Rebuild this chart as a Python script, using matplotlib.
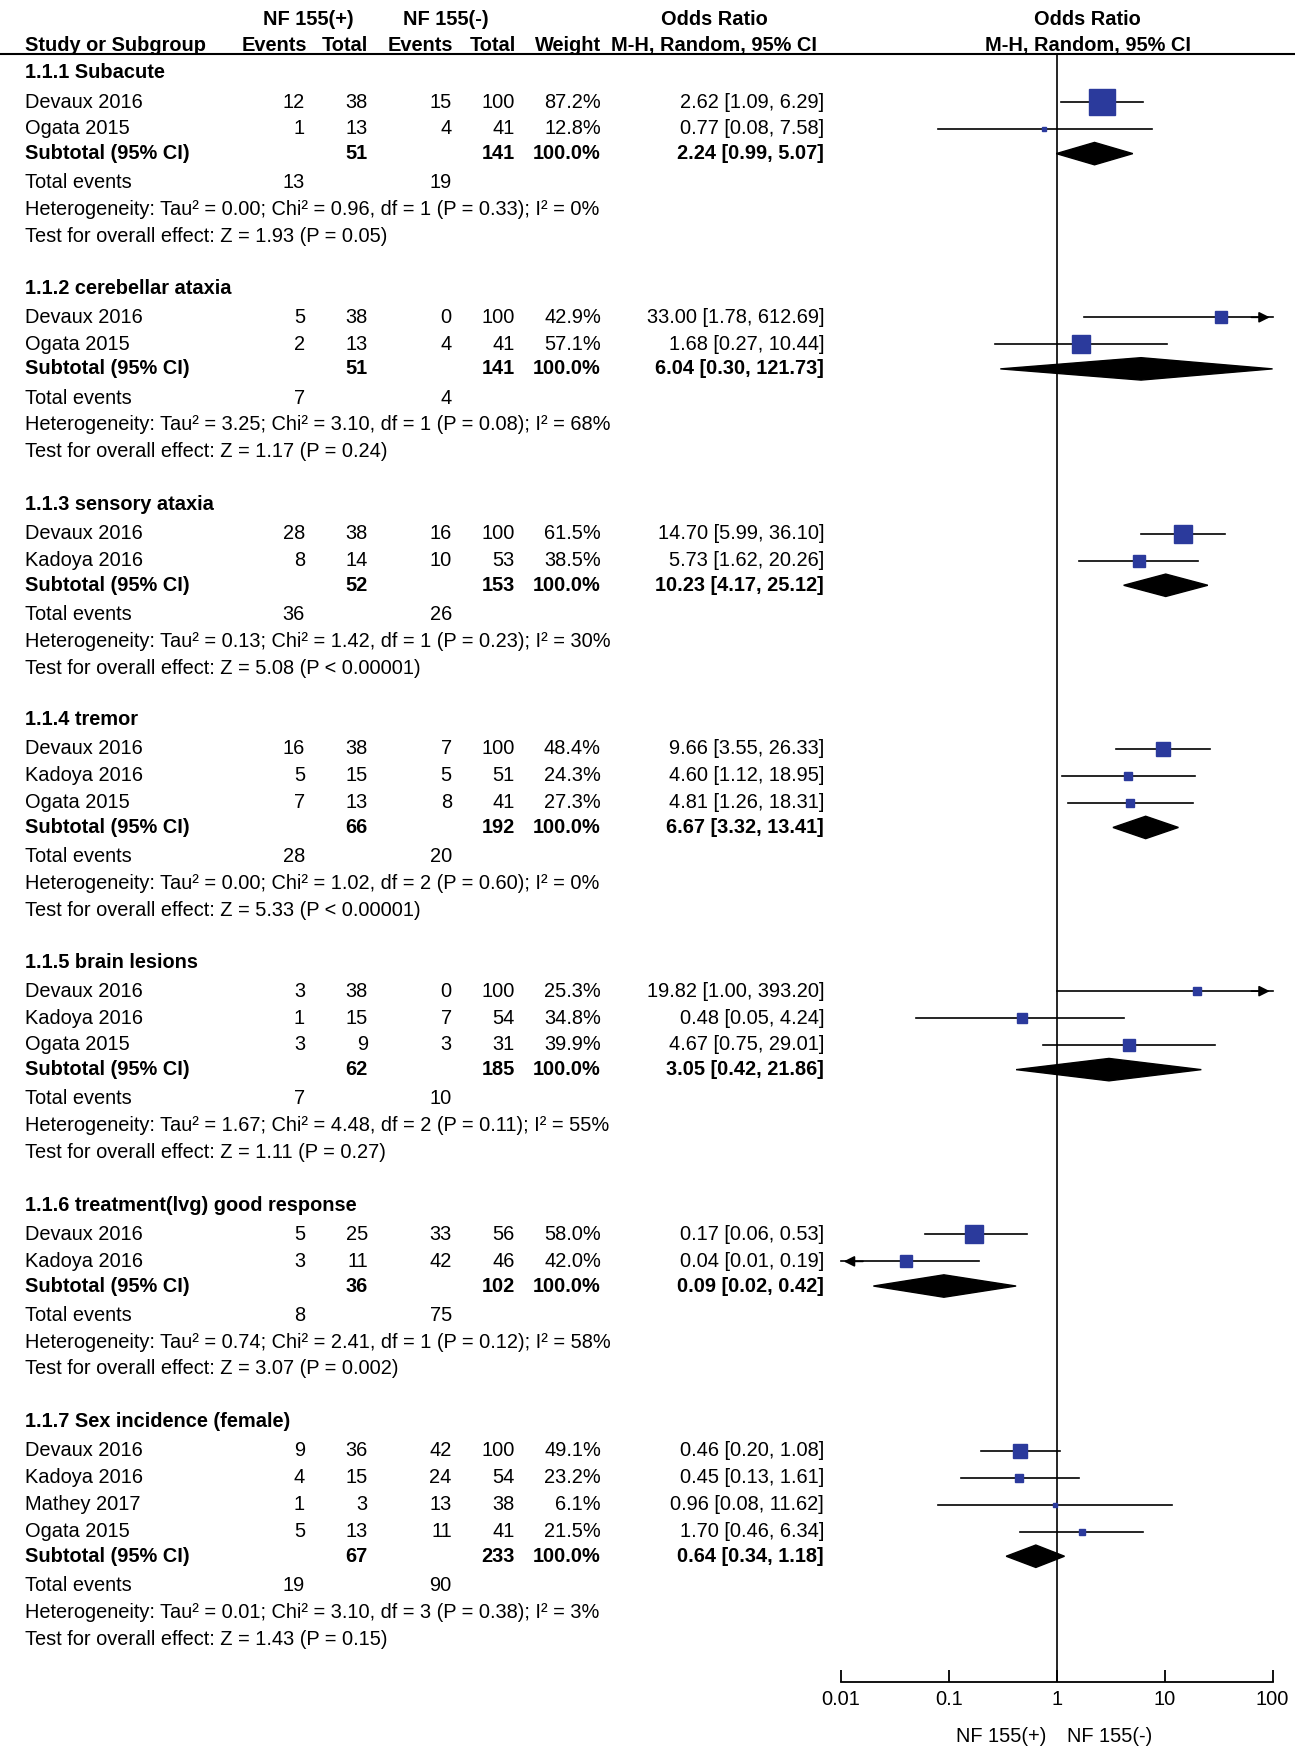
import matplotlib.pyplot as plt
import numpy as np

plt.rcParams['font.family'] = ['Liberation Sans', 'DejaVu Sans']
FS = 14.4
S = 1295 / 1155  # layout coordinates below are in a 1155-wide frame
W, H = 1155, 1750 / S
AXY = 1500

groups = ['1.1.1 Subacute', '1.1.2 cerebellar ataxia', '1.1.3 sensory ataxia', '1.1.4 tremor',
          '1.1.5 brain lesions', '1.1.6 treatment(lvg) good response', '1.1.7 Sex incidence (female)']
group_y = [65, 257, 450, 642, 858, 1075, 1268]
studies = [
    [('Devaux 2016', 12, 38, 15, 100, 87.2, 2.62, 1.09, 6.29), ('Ogata 2015', 1, 13, 4, 41, 12.8, 0.77, 0.08, 7.58)],
    [('Devaux 2016', 5, 38, 0, 100, 42.9, 33.00, 1.78, 612.69), ('Ogata 2015', 2, 13, 4, 41, 57.1, 1.68, 0.27, 10.44)],
    [('Devaux 2016', 28, 38, 16, 100, 61.5, 14.70, 5.99, 36.10), ('Kadoya 2016', 8, 14, 10, 53, 38.5, 5.73, 1.62, 20.26)],
    [('Devaux 2016', 16, 38, 7, 100, 48.4, 9.66, 3.55, 26.33), ('Kadoya 2016', 5, 15, 5, 51, 24.3, 4.60, 1.12, 18.95),
     ('Ogata 2015', 7, 13, 8, 41, 27.3, 4.81, 1.26, 18.31)],
    [('Devaux 2016', 3, 38, 0, 100, 25.3, 19.82, 1.00, 393.20), ('Kadoya 2016', 1, 15, 7, 54, 34.8, 0.48, 0.05, 4.24),
     ('Ogata 2015', 3, 9, 3, 31, 39.9, 4.67, 0.75, 29.01)],
    [('Devaux 2016', 5, 25, 33, 56, 58.0, 0.17, 0.06, 0.53), ('Kadoya 2016', 3, 11, 42, 46, 42.0, 0.04, 0.01, 0.19)],
    [('Devaux 2016', 9, 36, 42, 100, 49.1, 0.46, 0.20, 1.08), ('Kadoya 2016', 4, 15, 24, 54, 23.2, 0.45, 0.13, 1.61),
     ('Mathey 2017', 1, 3, 13, 38, 6.1, 0.96, 0.08, 11.62), ('Ogata 2015', 5, 13, 11, 41, 21.5, 1.70, 0.46, 6.34)],
]
subtotals = [(51, 141, 2.24, 0.99, 5.07), (51, 141, 6.04, 0.30, 121.73), (52, 153, 10.23, 4.17, 25.12),
             (66, 192, 6.67, 3.32, 13.41), (62, 185, 3.05, 0.42, 21.86), (36, 102, 0.09, 0.02, 0.42),
             (67, 233, 0.64, 0.34, 1.18)]
total_events = [(13, 19), (7, 4), (36, 26), (28, 20), (7, 10), (8, 75), (19, 90)]
heterogeneity = [('0.00', '0.96', 1, '0.33', 0), ('3.25', '3.10', 1, '0.08', 68), ('0.13', '1.42', 1, '0.23', 30),
                 ('0.00', '1.02', 2, '0.60', 0), ('1.67', '4.48', 2, '0.11', 55), ('0.74', '2.41', 1, '0.12', 58),
                 ('0.01', '3.10', 3, '0.38', 3)]
overall = ['Z = 1.93 (P = 0.05)', 'Z = 1.17 (P = 0.24)', 'Z = 5.08 (P < 0.00001)', 'Z = 5.33 (P < 0.00001)',
           'Z = 1.11 (P = 0.27)', 'Z = 3.07 (P = 0.002)', 'Z = 1.43 (P = 0.15)']

fig = plt.figure(figsize=(12.95, 17.5), dpi=100)
at = fig.add_axes([0, 0, 1, 1])
at.set_xlim(0, W)
at.set_ylim(H, 0)
at.axis('off')

af = fig.add_axes([750 / W, (H - AXY) / H, 385 / W, AXY / H])
af.set_xscale('log')
af.set_xlim(0.01, 100)
af.set_ylim(AXY, 0)
for s in ['top', 'left', 'right']:
    af.spines[s].set_visible(False)
af.spines['bottom'].set_linewidth(1.3)
af.patch.set_visible(False)
af.set_yticks([])
af.set_xticks([0.01, 0.1, 1, 10, 100])
af.set_xticklabels(['0.01', '0.1', '1', '10', '100'], fontsize=FS)
af.minorticks_off()
af.tick_params(axis='x', direction='in', length=9, width=1.3, pad=6)
af.plot([1, 1], [48, AXY], color='black', lw=1.2)

def t(x, y, s, ha='left', bold=False):
    at.text(x, y, s, ha=ha, va='center', fontsize=FS, fontweight='bold' if bold else 'normal')

# header
for x, s in [(275, 'NF 155(+)'), (398, 'NF 155(-)'), (637, 'Odds Ratio'), (970, 'Odds Ratio')]:
    t(x, 17, s, ha='center', bold=True)
t(22, 41, 'Study or Subgroup', bold=True)
for x, s in [(245, 'Events'), (308, 'Total'), (375, 'Events'), (440, 'Total'), (507, 'Weight'),
             (637, 'M-H, Random, 95% CI'), (970, 'M-H, Random, 95% CI')]:
    t(x, 41, s, ha='center', bold=True)
at.plot([0, 1155], [48, 48], color='black', lw=1.5)

def ci_line(y, lo, hi):
    a, b = max(lo, 0.01), min(hi, 100)
    af.plot([a, b], [y, y], color='black', lw=1.2, clip_on=False)
    if hi > 100:
        af.annotate('', xy=(100, y), xytext=(60, y), arrowprops=dict(arrowstyle='-|>', color='black', lw=1.2, mutation_scale=16),
                    annotation_clip=False)
    if lo <= 0.01:
        af.annotate('', xy=(0.01, y), xytext=(0.017, y), arrowprops=dict(arrowstyle='-|>', color='black', lw=1.2, mutation_scale=16),
                    annotation_clip=False)

for g in range(len(groups)):
    y = group_y[g]
    t(22, y, groups[g], bold=True)
    yy = y + 26
    for (name, e1, n1, e2, n2, w, orv, lo, hi) in studies[g]:
        t(22, yy, name)
        t(272, yy, str(e1), ha='right'); t(328, yy, str(n1), ha='right')
        t(403, yy, str(e2), ha='right'); t(459, yy, str(n2), ha='right')
        t(536, yy, '%.1f%%' % w, ha='right')
        t(735, yy, '%.2f [%.2f, %.2f]' % (orv, lo, hi), ha='right')
        ci_line(yy, lo, hi)
        af.plot(orv, yy, 's', color='#2b3a9c', ms=max(0.27 * w, 4) * 0.72 * S, clip_on=False, zorder=3)
        yy += 24
    n1, n2, orv, lo, hi = subtotals[g]
    yy -= 2
    t(22, yy, 'Subtotal (95% CI)', bold=True)
    t(328, yy, str(n1), ha='right', bold=True); t(459, yy, str(n2), ha='right', bold=True)
    t(536, yy, '100.0%', ha='right', bold=True)
    t(735, yy, '%.2f [%.2f, %.2f]' % (orv, lo, hi), ha='right', bold=True)
    a, b = max(lo, 0.01), min(hi, 100)
    af.fill([a, orv, b, orv], [yy, yy - 10, yy, yy + 10], color='black', clip_on=False, zorder=3)
    yy += 26
    t(22, yy, 'Total events')
    t(272, yy, str(total_events[g][0]), ha='right'); t(403, yy, str(total_events[g][1]), ha='right')
    yy += 24
    tau, chi, df, p, i2 = heterogeneity[g]
    t(22, yy, 'Heterogeneity: Tau² = %s; Chi² = %s, df = %d (P = %s); I² = %d%%' % (tau, chi, df, p, i2))
    yy += 24
    t(22, yy, 'Test for overall effect: ' + overall[g])

t(893, 1549, 'NF 155(+)', ha='center')
t(990, 1549, 'NF 155(-)', ha='center')

fig.savefig('out.png', dpi=100)
